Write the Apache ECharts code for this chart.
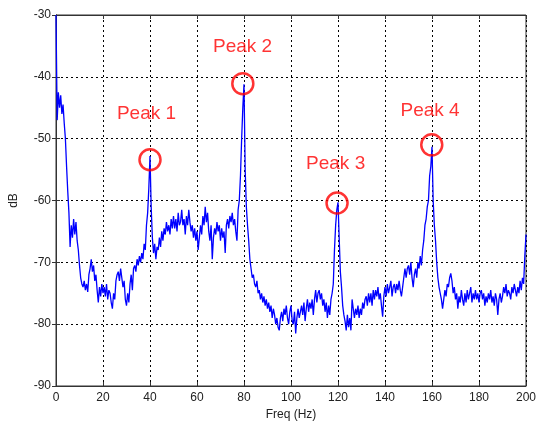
<!DOCTYPE html>
<html>
<head>
<meta charset="utf-8">
<script src="https://cdn.jsdelivr.net/npm/echarts@6/dist/echarts.min.js"></script>
<style>
  html, body { margin: 0; padding: 0; background: #fff; }
  #chart { width: 539px; height: 426px; }
</style>
</head>
<body>
<div id="chart"></div>
<script>
// spectrum sampled every 0.5 Hz, 0..200 Hz
var freqStep = 0.5;
var spectrumDb = [
  -30, -47, -42.5, -45, -43, -46, -44.5, -47.5, -50, -54.5, -58.5, -62, -67.5, -64, -66, -63, -65.5, -63.5, -66.5, -68,
  -70.5, -72.5, -73.5, -74, -73, -74.5, -73.5, -74.8, -72, -71, -69.5, -71.5, -70.5, -73, -72, -74.5, -76.5, -74, -75.5, -73.5,
  -75, -74, -75.5, -73.5, -76, -74.5, -75, -76.5, -77.5, -75, -76, -73, -72, -71.5, -73, -71, -72.5, -74, -73, -76,
  -77, -75, -76.5, -73.5, -72, -74.5, -71, -70.5, -71.5, -69.5, -70.5, -69, -70, -68.5, -69.5, -67, -68, -64, -62, -58,
  -52.8, -61, -66, -68.5, -67, -69.5, -67.5, -68, -66, -67.5, -65, -66.5, -64.5, -65.5, -63.5, -65, -64, -65.5, -63, -64.5,
  -62.5, -64.5, -63, -65, -62, -64, -63.5, -61.5, -64, -63, -65.5, -62.5, -64, -61.5, -63.5, -65, -64, -66, -64.5, -66.5,
  -65, -68, -66, -64, -65.5, -62.5, -64, -61, -63.5, -62, -65, -66.5, -64, -69.5, -66, -64.5, -65.5, -63.5, -65, -64,
  -66.5, -64.5, -66, -65, -68.5, -64, -63, -64.5, -62.5, -63.5, -62, -64, -63, -65, -66.5, -61.5, -60, -56, -50, -45,
  -41.2, -55, -61, -64, -66.5, -69.5, -71, -72.5, -72, -73.5, -74, -73, -75, -74.5, -76, -75, -76.5, -75.5, -77, -76,
  -77.5, -76.5, -78, -77, -79, -77.5, -78.5, -80, -79, -80.5, -81, -79, -78, -79.5, -77.5, -78.5, -77, -79, -80, -78,
  -77, -79.5, -80, -78, -81.5, -79, -77.5, -79, -78, -77, -78.5, -76.5, -79.5, -77.5, -76, -78, -76.5, -77.5, -76, -78.5,
  -76, -74.5, -76.5, -75, -74.5, -76, -75, -77, -76, -78, -76.5, -79, -77, -78.5, -76, -75, -73.5, -68, -64, -61.5,
  -60.3, -66, -71.5, -74, -77, -78.5, -79.5, -81, -78.5, -80.5, -79, -81, -76, -77.5, -79, -77.5, -78.5, -77, -79, -77.5,
  -78.5, -76.5, -77.5, -76, -75.5, -77, -75, -76.5, -75, -77, -74.5, -76, -74.5, -75.5, -74, -76, -75, -77, -78.8, -75.5,
  -74, -75.5, -73.5, -75, -74, -73, -75.5, -74, -73.5, -75, -73.5, -74.5, -73, -74.5, -75.5, -74, -72.5, -71, -72.5, -71,
  -70.5, -72, -70, -72.5, -74, -72, -71, -72.5, -70, -71, -69, -70.5, -68, -66.5, -64, -63, -61, -60, -56, -54.5,
  -51.3, -60, -64, -66.5, -70, -72.5, -74, -75, -76, -77.5, -76, -74.5, -75.5, -73.5, -74, -72.5, -71.8, -73, -75, -74,
  -76, -75, -77.5, -75.5, -76.5, -74.5, -76, -77, -75, -76.5, -74.5, -76, -75, -74, -76.5, -75, -76, -74.5, -76, -75,
  -76.5, -75, -74.5, -76, -75, -77, -75.5, -76.5, -75, -76, -74.5, -76.5, -75.5, -77, -75, -76, -78.5, -76, -75, -76.5,
  -75.5, -74, -75, -73.5, -75.5, -74.5, -75, -76, -74, -75, -73.5, -74.5, -75.5, -74, -75, -73, -74.5, -72.5, -73.5, -69,
  -65.5
];

// circled peaks
var peakHz = [40, 79.5, 119.6, 159.9];
var peakDb = [-53.4, -41.1, -60.4, -51.0];

// peak annotations
var labelText = ['Peak 1', 'Peak 2', 'Peak 3', 'Peak 4'];
var labelHz = [38.5, 79.4, 119, 159.2];
var labelDb = [-46.0, -35.1, -54.1, -45.5];

var xTicks = [0, 20, 40, 60, 80, 100, 120, 140, 160, 180, 200];
var yTicks = [-90, -80, -70, -60, -50, -40, -30];

var lineData = spectrumDb.map(function (v, i) { return [i * freqStep, v]; });
var circleData = peakHz.map(function (h, i) { return [h, peakDb[i]]; });
var labelData = labelHz.map(function (h, i) {
  return { name: labelText[i], value: [h, labelDb[i]] };
});

var chart = echarts.init(document.getElementById('chart'));

var font = 'Liberation Sans, Arial, sans-serif';
var dash = { color: '#000', width: 1, type: [2, 3] };

var option = {
  animation: false,
  backgroundColor: '#fff',
  grid: {
    left: 55, right: 12, top: 15, bottom: 40,
    show: true, borderColor: '#333', borderWidth: 1
  },
  xAxis: [
    {
      type: 'value', min: xTicks[0], max: xTicks[xTicks.length - 1], interval: 20,
      name: 'Freq (Hz)', nameLocation: 'middle', nameGap: 21,
      nameTextStyle: { color: '#222', fontSize: 12, fontFamily: font },
      axisLine: { show: true, lineStyle: { color: '#333' } },
      axisTick: { show: true, inside: true, length: 4, lineStyle: { color: '#333' } },
      axisLabel: { color: '#222', fontSize: 12, fontFamily: font, margin: 6 },
      splitLine: { show: true, lineStyle: dash }
    },
    {
      type: 'value', position: 'top', min: 0, max: 200, interval: 20,
      axisLine: { show: true, lineStyle: { color: '#333' } },
      axisTick: { show: true, inside: true, length: 4, lineStyle: { color: '#333' } },
      axisLabel: { show: false },
      splitLine: { show: false }
    }
  ],
  yAxis: [
    {
      type: 'value', min: yTicks[0], max: yTicks[yTicks.length - 1], interval: 10,
      name: 'dB', nameLocation: 'middle', nameGap: 36, nameRotate: 90,
      nameTextStyle: { color: '#222', fontSize: 12, fontFamily: font },
      axisLine: { show: true, lineStyle: { color: '#333' } },
      axisTick: { show: true, inside: true, length: 4, lineStyle: { color: '#333' } },
      axisLabel: { color: '#222', fontSize: 12, fontFamily: font, margin: 5 },
      splitLine: { show: true, lineStyle: dash }
    },
    {
      type: 'value', position: 'right', min: -90, max: -30, interval: 10,
      axisLine: { show: true, lineStyle: { color: '#333' } },
      axisTick: { show: true, inside: true, length: 4, lineStyle: { color: '#333' } },
      axisLabel: { show: false },
      splitLine: { show: false }
    }
  ],
  series: [
    {
      type: 'line',
      data: lineData,
      showSymbol: false,
      lineStyle: { color: '#0000ff', width: 1.3 },
      z: 3
    },
    {
      type: 'scatter',
      data: circleData,
      symbol: 'circle',
      symbolSize: 21,
      itemStyle: { color: 'rgba(0,0,0,0)', borderColor: '#ff0000', borderWidth: 2.5 },
      z: 5
    },
    {
      type: 'scatter',
      data: labelData,
      symbolSize: 0,
      label: {
        show: true, position: 'inside', formatter: '{b}',
        color: '#ff0000', fontSize: 19, fontFamily: font
      },
      z: 6
    }
  ]
};

chart.setOption(option);
</script>
</body>
</html>
